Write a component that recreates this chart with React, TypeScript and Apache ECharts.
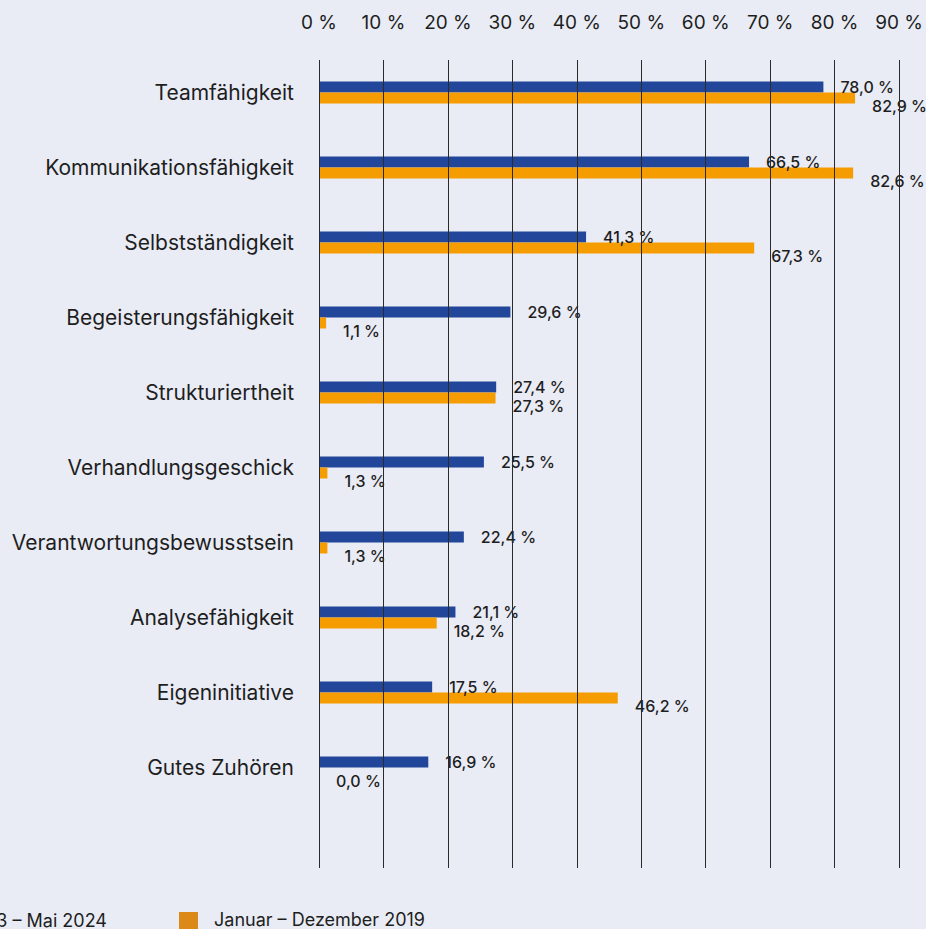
import React, { useEffect, useRef } from "react";
import * as echarts from "echarts";

const categories = [
  "Teamfähigkeit",
  "Kommunikationsfähigkeit",
  "Selbstständigkeit",
  "Begeisterungsfähigkeit",
  "Strukturiertheit",
  "Verhandlungsgeschick",
  "Verantwortungsbewusstsein",
  "Analysefähigkeit",
  "Eigeninitiative",
  "Gutes Zuhören",
];
const series2024 = [78.0, 66.5, 41.3, 29.6, 27.4, 25.5, 22.4, 21.1, 17.5, 16.9];
const series2019 = [82.9, 82.6, 67.3, 1.1, 27.3, 1.3, 1.3, 18.2, 46.2, 0.0];
const legendNames = ["Juni 2023 – Mai 2024", "Januar – Dezember 2019"];
const axisMin = 0;
const axisMax = 90;
const axisInterval = 10;

const FONT = "Inter, 'Noto Sans', sans-serif";
const fmt = (v: number) => v.toFixed(1).replace(".", ",") + " %";

export default function App() {
  const ref = useRef<HTMLDivElement>(null);
  useEffect(() => {
    if (!ref.current) return;
    const chart = echarts.init(ref.current, null, { renderer: "svg" });
    const labelBase = {
      show: true,
      position: "right" as const,
      distance: 17,
      color: "#1e1e1e",
      fontSize: 16,
      fontWeight: 500,
      fontFamily: FONT,
      formatter: (p: any) => fmt(p.value),
    };
    chart.setOption({
      animation: false,
      backgroundColor: "#e9ecf5",
      textStyle: { fontFamily: FONT },
      grid: [
        { left: 319, right: 25, top: 55, height: 750 },
        { left: 319, right: 25, top: 60, height: 808 },
      ],
      xAxis: [
        {
          gridIndex: 0,
          type: "value",
          min: axisMin,
          max: axisMax,
          interval: axisInterval,
          show: false,
          splitLine: { show: false },
        },
        {
          gridIndex: 1,
          type: "value",
          position: "top",
          min: axisMin,
          max: axisMax,
          interval: axisInterval,
          z: 5,
          axisLine: { show: false },
          axisTick: { show: false },
          axisLabel: {
            margin: 28,
            fontSize: 19,
            color: "#1e1e1e",
            fontFamily: FONT,
            formatter: (v: number) => v + " %",
          },
          splitLine: { show: true, lineStyle: { color: "#2a2a2a", width: 1 } },
        },
      ],
      yAxis: [
        {
          gridIndex: 0,
          type: "category",
          data: categories,
          inverse: true,
          axisLine: { show: false },
          axisTick: { show: false },
          splitLine: { show: false },
          axisLabel: {
            margin: 25,
            fontSize: 21,
            color: "#1e1e1e",
            fontFamily: FONT,
          },
        },
        {
          gridIndex: 1,
          type: "value",
          show: false,
          splitLine: { show: false },
        },
      ],
      series: [
        {
          name: legendNames[0],
          type: "bar",
          xAxisIndex: 0,
          yAxisIndex: 0,
          data: series2024,
          barWidth: 11,
          barGap: "0%",
          itemStyle: { color: "#22479a" },
          label: { ...labelBase, offset: [0, 0] },
        },
        {
          name: legendNames[1],
          type: "bar",
          xAxisIndex: 0,
          yAxisIndex: 0,
          data: series2019,
          barWidth: 11,
          barGap: "0%",
          itemStyle: { color: "#f59c00" },
          label: { ...labelBase, offset: [0, 8] },
        },
      ],
      graphic: [
        {
          type: "rect",
          x: -60,
          y: 912,
          shape: { width: 19, height: 19 },
          style: { fill: "#22479a" },
        },
        {
          type: "text",
          x: 107,
          y: 920,
          style: {
            text: legendNames[0],
            fill: "#1e1e1e",
            fontSize: 18,
            fontFamily: FONT,
            align: "right",
            verticalAlign: "middle",
          },
        },
        {
          type: "rect",
          x: 179,
          y: 912,
          shape: { width: 19, height: 19 },
          style: { fill: "#db8a17" },
        },
        {
          type: "text",
          x: 214,
          y: 919,
          style: {
            text: legendNames[1],
            fill: "#1e1e1e",
            fontSize: 18,
            fontFamily: FONT,
            align: "left",
            verticalAlign: "middle",
          },
        },
      ],
    });
    return () => chart.dispose();
  }, []);
  return (
    <div
      ref={ref}
      style={{ position: "fixed", left: 0, top: 0, width: 926, height: 929 }}
    />
  );
}
